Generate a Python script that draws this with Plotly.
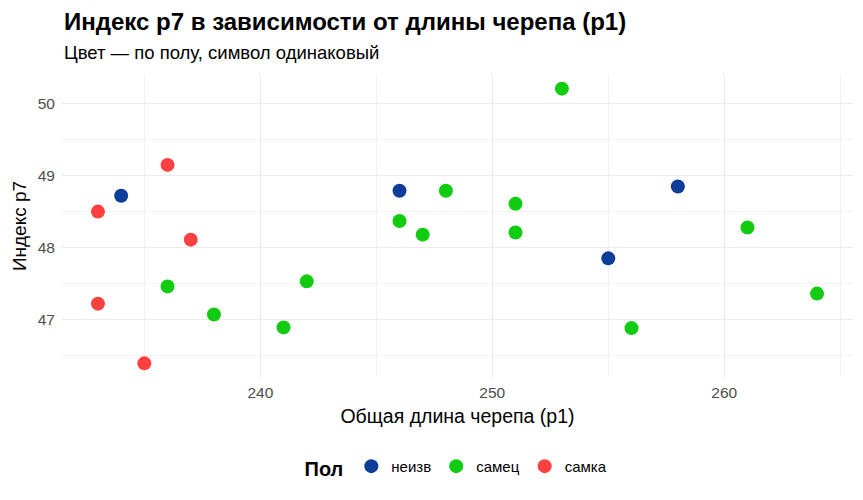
import plotly.graph_objects as go

# skull length (p1) vs index p7, by sex
x_unknown = [234, 246, 255, 258]
y_unknown = [48.72, 48.79, 47.85, 48.85]

x_male = [253, 246, 247, 248, 251, 251, 261, 264, 256, 242, 236, 238, 241]
y_male = [50.21, 48.37, 48.18, 48.79, 48.61, 48.21, 48.28, 47.36, 46.88, 47.53, 47.46, 47.07, 46.89]

x_female = [236, 233, 237, 233, 235]
y_female = [49.15, 48.50, 48.11, 47.22, 46.39]

groups = ["неизв", "самец", "самка"]
colors = ["#0D3D99", "#11CC11", "#FF4040"]

fig = go.Figure()
for name, xs, ys, col in zip(groups,
                             [x_unknown, x_male, x_female],
                             [y_unknown, y_male, y_female],
                             colors):
    fig.add_trace(go.Scatter(x=xs, y=ys, mode="markers", name=name,
                             marker=dict(color=col, size=14, line=dict(width=0))))

font = "Liberation Sans, Arial, sans-serif"

# page body has an 8px margin, so the figure is a bit smaller than the window
fig.update_layout(
    width=855, height=492,
    paper_bgcolor="white", plot_bgcolor="white",
    margin=dict(l=54, r=10, t=67, b=123, autoexpand=False),
    font=dict(family=font, color="black"),
    showlegend=True,
    legend=dict(orientation="h", x=0.5, xanchor="center", y=-0.301, yanchor="middle",
                title=dict(text="<b>Пол</b>", font=dict(size=20)),
                font=dict(size=15), itemwidth=30),
    annotations=[
        dict(text="<b>Индекс p7 в зависимости от длины черепа (p1)</b>", xref="paper", yref="paper",
             x=0, y=1, xanchor="left", yanchor="middle", yshift=54, showarrow=False,
             font=dict(size=24, color="black")),
        dict(text="Цвет — по полу, символ одинаковый", xref="paper", yref="paper",
             x=0, y=1, xanchor="left", yanchor="middle", yshift=23, showarrow=False,
             font=dict(size=18.5, color="black")),
    ],
)

fig.update_xaxes(range=[231.45, 265.55], tickvals=[240, 250, 260], showline=False, zeroline=False,
                 automargin=False, gridcolor="#EBEBEB", gridwidth=1.1,
                 minor=dict(tick0=235, dtick=10, showgrid=True, gridcolor="#F2F2F2", gridwidth=0.6),
                 tickfont=dict(size=15.5, color="#4D4D4D"), ticklabelstandoff=4,
                 title=dict(text="Общая длина черепа (p1)", font=dict(size=19.5), standoff=9))
fig.update_yaxes(range=[46.2, 50.4], tickvals=[47, 48, 49, 50], showline=False, zeroline=False,
                 automargin=False, gridcolor="#EBEBEB", gridwidth=1.1,
                 minor=dict(tick0=46.5, dtick=1, showgrid=True, gridcolor="#F2F2F2", gridwidth=0.6),
                 tickfont=dict(size=15.5, color="#4D4D4D"), ticklabelstandoff=6,
                 title=dict(text="Индекс p7", font=dict(size=19), standoff=6))

fig.write_html("out.html")
